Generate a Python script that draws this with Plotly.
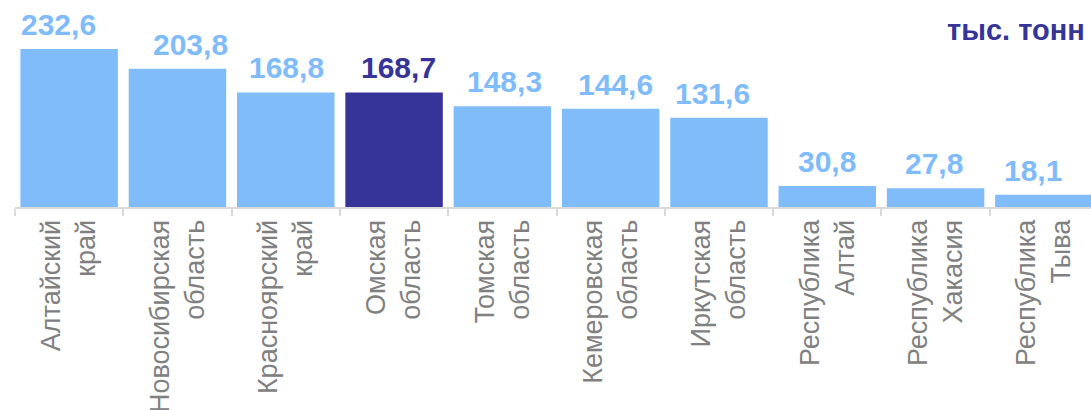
import plotly.graph_objects as go

categories = ["Алтайский<br>край", "Новосибирская<br>область", "Красноярский<br>край",
              "Омская<br>область", "Томская<br>область", "Кемеровская<br>область",
              "Иркутская<br>область", "Республика<br>Алтай", "Республика<br>Хакасия",
              "Республика<br>Тыва"]
values = [232.6, 203.8, 168.8, 168.7, 148.3, 144.6, 131.6, 30.8, 27.8, 18.1]
value_labels = ["232,6", "203,8", "168,8", "168,7", "148,3", "144,6", "131,6", "30,8", "27,8", "18,1"]
highlight = "Омская<br>область"
unit_label = "тыс. тонн"

LIGHT = "#80BBFA"
DARK = "#363399"
colors = [DARK if c == highlight else LIGHT for c in categories]

fig = go.Figure()
fig.add_trace(go.Bar(
    x=categories, y=values, marker=dict(color=colors, line=dict(width=0)),
    hoverinfo="skip",
))

label_xshift = [-11, 13, 1, 4, 2, 5, -6, 0, -2, -11]
for i, (c, v, t) in enumerate(zip(categories, values, value_labels)):
    fig.add_annotation(x=c, y=v, text="<b>" + t + "</b>", showarrow=False,
                       xanchor="center", yanchor="bottom",
                       yshift=6, xshift=label_xshift[i],
                       font=dict(family="Liberation Sans, Arial", size=30, color=colors[i]))

fig.add_annotation(xref="paper", yref="paper", x=1, y=1, xanchor="right", yanchor="top",
                   xshift=-4, yshift=-12, text="<b>" + unit_label + "</b>", showarrow=False,
                   font=dict(family="Liberation Sans, Arial", size=29, color=DARK))

fig.update_layout(
    width=1091, height=410,
    margin=dict(l=15, r=0, t=0, b=203, autoexpand=False),
    paper_bgcolor="white", plot_bgcolor="white",
    bargap=0.1, showlegend=False,
    xaxis=dict(
        type="category", range=[-0.5, 9.435], tickson="boundaries",
        ticks="outside", ticklen=7, tickwidth=2, tickcolor="#D9D9D9",
        showline=True, linecolor="#D9D9D9", linewidth=2,
        tickangle=-90, showgrid=False,
        tickfont=dict(family="Liberation Sans, Arial", size=27, color="#808080"),
    ),
    yaxis=dict(range=[0, 304.9], visible=False, showgrid=False, zeroline=False),
)

fig.write_html("out.html", config={"displayModeBar": False},
               post_script="document.body.style.margin='0';")
